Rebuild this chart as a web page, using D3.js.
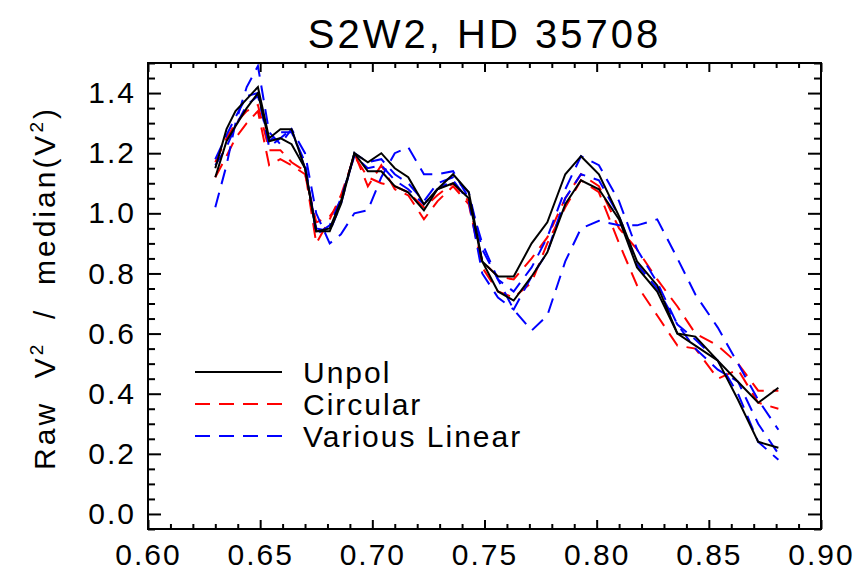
<!DOCTYPE html>
<html>
<head>
<meta charset="utf-8">
<script src="https://cdn.jsdelivr.net/npm/d3@7"></script>
<style>
  body { margin: 0; background: #fff; }
  text { font-family: "Liberation Sans", "DejaVu Sans", sans-serif; fill: #000; white-space: pre; }
</style>
</head>
<body>
<script>
// wavelength channels (x) and the normalised V2 of each measurement
const wavelength = [0.630, 0.635, 0.639, 0.644, 0.649, 0.654, 0.659, 0.664, 0.670, 0.675,
  0.681, 0.686, 0.692, 0.698, 0.704, 0.710, 0.716, 0.723, 0.729, 0.736,
  0.743, 0.749, 0.756, 0.763, 0.771, 0.778, 0.786, 0.793, 0.801, 0.810,
  0.818, 0.827, 0.836, 0.844, 0.854, 0.863, 0.872, 0.881];

const unpol1 = [1.15, 1.28, 1.34, 1.38, 1.42, 1.25, 1.28, 1.28, 1.15, 0.94,
  0.95, 1.04, 1.20, 1.17, 1.20, 1.15, 1.12, 1.03, 1.08, 1.13,
  1.07, 0.84, 0.79, 0.79, 0.90, 0.97, 1.13, 1.19, 1.13, 0.99,
  0.84, 0.76, 0.60, 0.59, 0.51, 0.44, 0.37, 0.42];
const unpol2 = [1.12, 1.24, 1.29, 1.35, 1.40, 1.24, 1.25, 1.23, 1.15, 0.94,
  0.94, 1.03, 1.20, 1.14, 1.14, 1.09, 1.07, 1.01, 1.08, 1.10,
  1.05, 0.84, 0.74, 0.71, 0.79, 0.87, 1.03, 1.11, 1.08, 0.98,
  0.82, 0.74, 0.60, 0.56, 0.51, 0.38, 0.24, 0.22];

const circ1 = [1.17, 1.25, 1.30, 1.34, 1.36, 1.21, 1.21, 1.17, 1.14, 0.90,
  0.98, 1.06, 1.19, 1.12, 1.10, 1.09, 1.07, 1.02, 1.06, 1.10,
  1.04, 0.84, 0.79, 0.78, 0.85, 0.92, 1.05, 1.13, 1.09, 0.95,
  0.88, 0.78, 0.69, 0.60, 0.56, 0.50, 0.41, 0.41];
const circ2 = [1.12, 1.19, 1.25, 1.30, 1.34, 1.16, 1.18, 1.16, 1.13, 0.97,
  0.99, 1.04, 1.20, 1.09, 1.16, 1.08, 1.06, 0.98, 1.04, 1.09,
  1.03, 0.82, 0.74, 0.72, 0.77, 0.90, 1.02, 1.11, 1.07, 0.90,
  0.76, 0.66, 0.56, 0.55, 0.45, 0.48, 0.37, 0.35];

const lin1 = [1.18, 1.26, 1.32, 1.39, 1.40, 1.22, 1.25, 1.28, 1.15, 0.95,
  0.94, 1.03, 1.20, 1.17, 1.18, 1.13, 1.10, 1.04, 1.10, 1.12,
  1.07, 0.88, 0.78, 0.74, 0.82, 0.92, 1.08, 1.19, 1.16, 1.04,
  0.88, 0.77, 0.63, 0.55, 0.48, 0.44, 0.30, 0.20];
const lin2 = [1.16, 1.22, 1.29, 1.36, 1.39, 1.24, 1.27, 1.27, 1.17, 0.93,
  0.96, 1.05, 1.19, 1.15, 1.16, 1.11, 1.08, 1.03, 1.08, 1.11,
  1.04, 0.80, 0.72, 0.68, 0.79, 0.87, 1.05, 1.13, 1.11, 0.99,
  0.83, 0.75, 0.63, 0.58, 0.51, 0.40, 0.24, 0.18];
const lin3 = [1.02, 1.16, 1.30, 1.42, 1.49, 1.27, 1.23, 1.28, 1.20, 1.00,
  0.90, 0.93, 1.00, 1.01, 1.12, 1.20, 1.22, 1.13, 1.13, 1.14,
  1.05, 0.90, 0.78, 0.68, 0.61, 0.66, 0.84, 0.95, 0.975, 0.96,
  0.96, 0.98, 0.85, 0.73, 0.62, 0.50, 0.38, 0.28];

const xTicks = [0.60, 0.65, 0.70, 0.75, 0.80, 0.85, 0.90];
const yTicks = [0.0, 0.2, 0.4, 0.6, 0.8, 1.0, 1.2, 1.4];

const legendLabels = ["Unpol", "Circular", "Various Linear"];
const legendColors = ["#000000", "#ff0000", "#0000ff"];

const width = 859;
const height = 580;
const plotLeft = 148, plotRight = 821, plotTop = 63, plotBottom = 529;
const dash = "15,9";

const xScale = d3.scaleLinear().domain([0.60, 0.90]).range([plotLeft, plotRight]);
const yScale = d3.scaleLinear().domain([-0.05, 1.5]).range([plotBottom, plotTop]);

const svg = d3.select("body")
  .append("svg")
  .attr("width", width)
  .attr("height", height);

// series: [values, colour, dashed]
const series = [
  [unpol1, "#000000", false],
  [unpol2, "#000000", false],
  [circ1, "#ff0000", true],
  [circ2, "#ff0000", true],
  [lin1, "#0000ff", true],
  [lin2, "#0000ff", true],
  [lin3, "#0000ff", true]
];

const line = d3.line()
  .x((d, i) => xScale(wavelength[i]))
  .y(d => yScale(d));

// draw the dashed ones first so the black lines sit on top
const order = [2, 3, 4, 5, 6, 0, 1];
order.forEach(k => {
  const s = series[k];
  svg.append("path")
    .datum(s[0])
    .attr("d", line)
    .attr("fill", "none")
    .attr("stroke", s[1])
    .attr("stroke-width", 2)
    .attr("stroke-dasharray", s[2] ? dash : null);
});

// minor tick values
const xMinor = d3.range(60, 91).map(v => v / 100).filter(v => !xTicks.some(t => Math.abs(t - v) < 1e-6));
const yMinor = d3.range(-1, 31).map(v => v * 0.05).filter(v => !yTicks.some(t => Math.abs(t - v) < 1e-6) && v >= -0.05 && v <= 1.5);

const styleAxis = (g) => {
  g.select(".domain").remove();
  g.selectAll("line").attr("stroke", "#000").attr("stroke-width", 2);
};

svg.append("g")
  .attr("transform", `translate(0, ${plotBottom})`)
  .call(d3.axisBottom(xScale).tickValues(xTicks).tickSize(-9).tickPadding(15).tickFormat(d3.format(".2f")))
  .call(styleAxis)
  .selectAll("text").attr("font-size", 30).attr("letter-spacing", 2);

svg.append("g")
  .attr("transform", `translate(0, ${plotBottom})`)
  .call(d3.axisBottom(xScale).tickValues(xMinor).tickSize(-5).tickFormat(""))
  .call(styleAxis);

svg.append("g")
  .attr("transform", `translate(0, ${plotTop})`)
  .call(d3.axisTop(xScale).tickValues(xTicks).tickSize(-9).tickFormat(""))
  .call(styleAxis);

svg.append("g")
  .attr("transform", `translate(0, ${plotTop})`)
  .call(d3.axisTop(xScale).tickValues(xMinor).tickSize(-5).tickFormat(""))
  .call(styleAxis);

svg.append("g")
  .attr("transform", `translate(${plotLeft}, 0)`)
  .call(d3.axisLeft(yScale).tickValues(yTicks).tickSize(-13).tickPadding(12).tickFormat(d3.format(".1f")))
  .call(styleAxis)
  .selectAll("text").attr("font-size", 30).attr("letter-spacing", 2);

svg.append("g")
  .attr("transform", `translate(${plotLeft}, 0)`)
  .call(d3.axisLeft(yScale).tickValues(yMinor).tickSize(-7).tickFormat(""))
  .call(styleAxis);

svg.append("g")
  .attr("transform", `translate(${plotRight}, 0)`)
  .call(d3.axisRight(yScale).tickValues(yTicks).tickSize(-13).tickFormat(""))
  .call(styleAxis);

svg.append("g")
  .attr("transform", `translate(${plotRight}, 0)`)
  .call(d3.axisRight(yScale).tickValues(yMinor).tickSize(-7).tickFormat(""))
  .call(styleAxis);

// frame
svg.append("rect")
  .attr("x", plotLeft).attr("y", plotTop)
  .attr("width", plotRight - plotLeft).attr("height", plotBottom - plotTop)
  .attr("fill", "none").attr("stroke", "#000").attr("stroke-width", 2);

// title
svg.append("text")
  .attr("x", (plotLeft + plotRight) / 2)
  .attr("y", 48)
  .attr("text-anchor", "middle")
  .attr("font-size", 40)
  .attr("letter-spacing", 3)
  .text("S2W2, HD 35708");

// y label
const yLabel = svg.append("text")
  .attr("transform", `translate(55, 288) rotate(-90)`)
  .attr("text-anchor", "middle")
  .attr("font-size", 30)
  .attr("letter-spacing", 3);
yLabel.append("tspan").text("Raw  V");
yLabel.append("tspan").attr("font-size", 19).attr("dy", -12).text("2");
yLabel.append("tspan").attr("dy", 12).text("  /  median(V");
yLabel.append("tspan").attr("font-size", 19).attr("dy", -12).text("2");
yLabel.append("tspan").attr("dy", 12).text(")");

// legend
const legend = svg.append("g");
legendLabels.forEach((label, i) => {
  const ly = 372 + i * 32;
  legend.append("line")
    .attr("x1", 195).attr("x2", 282)
    .attr("y1", ly).attr("y2", ly)
    .attr("stroke", legendColors[i])
    .attr("stroke-width", 2)
    .attr("stroke-dasharray", i === 0 ? null : dash);
  legend.append("text")
    .attr("x", 303)
    .attr("y", ly + 11)
    .attr("font-size", 30)
    .attr("letter-spacing", 2)
    .text(label);
});
</script>
</body>
</html>
